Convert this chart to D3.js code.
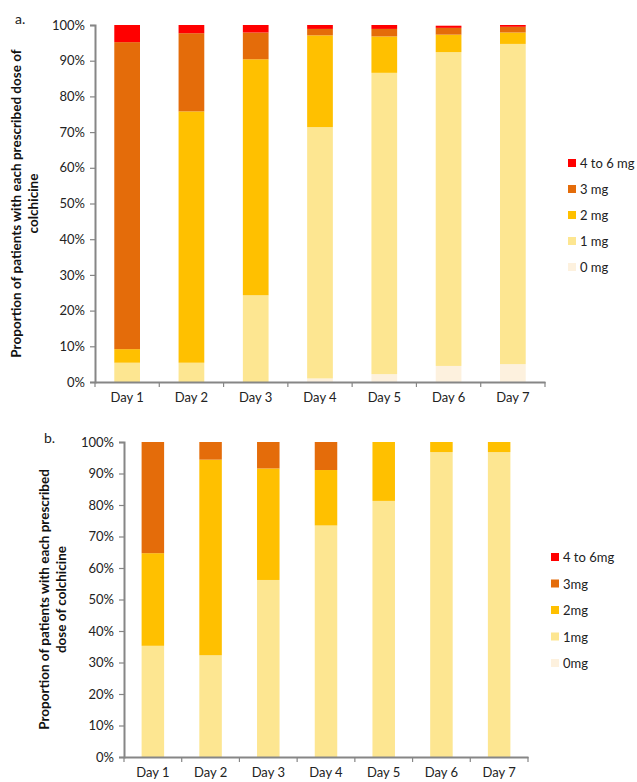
<!DOCTYPE html>
<html>
<head>
<meta charset="utf-8">
<script src="https://cdn.jsdelivr.net/npm/d3@7"></script>
<style>
  body { margin: 0; background: #fff; }
  svg { display: block; font-family: Lato, "Liberation Sans", sans-serif; }
</style>
</head>
<body>
<div id="idMyCanvas"></div>
<script>
// Data
// -------------------
let days = ["Day 1", "Day 2", "Day 3", "Day 4", "Day 5", "Day 6", "Day 7"];
let dose_keys = ["d0", "d1", "d2", "d3", "d4"];
let dose_colors = ["#fdf1de", "#fde691", "#ffc000", "#e46c0a", "#ff0000"];
let legend_a = ["4 to 6 mg", "3 mg", "2 mg", "1 mg", "0 mg"];
let legend_b = ["4 to 6mg", "3mg", "2mg", "1mg", "0mg"];
let y_ticks = [0, 10, 20, 30, 40, 50, 60, 70, 80, 90, 100];

// panel a (percent of patients per day)
let a_0mg  = [0.0, 0.0, 0.0, 1.0, 2.2, 4.5, 5.0];
let a_1mg  = [5.4, 5.4, 24.3, 70.4, 84.4, 87.9, 89.7];
let a_2mg  = [3.8, 70.4, 66.1, 25.7, 10.2, 4.9, 3.2];
let a_3mg  = [86.0, 21.9, 7.5, 1.8, 2.1, 1.9, 1.6];
let a_4to6 = [4.8, 2.3, 2.1, 1.1, 1.1, 0.6, 0.5];

// panel b
let b_0mg  = [0, 0, 0, 0, 0, 0, 0];
let b_1mg  = [35.3, 32.3, 56.2, 73.5, 81.3, 96.8, 96.8];
let b_2mg  = [29.4, 62.1, 35.4, 17.6, 18.7, 3.2, 3.2];
let b_3mg  = [35.3, 5.6, 8.4, 8.9, 0, 0, 0];
let b_4to6 = [0, 0, 0, 0, 0, 0, 0];
// -------------------

let font_size = 13; // px

let svg_obj = d3.select("#idMyCanvas")
                .append("svg")
                  .attr("width", 637)
                  .attr("height", 782)
                  .attr("viewBox", "0 0 637 782");

function rows_from(s0, s1, s2, s3, s4) {
   return days.map((d, i) => ({ day: d, d0: s0[i], d1: s1[i], d2: s2[i], d3: s3[i], d4: s4[i] }));
}

function draw_panel(cfg) {
   let x = d3.scaleBand().domain(days).range([cfg.x0, cfg.x1]).paddingInner(cfg.pad).paddingOuter(cfg.pad / 2);
   let x_ticks = d3.scaleBand().domain(days).range([cfg.x0, cfg.x1]);
   let y = d3.scaleLinear().domain([0, 100]).range([cfg.y0, cfg.y1]);

   let stack = d3.stack().keys(dose_keys)(cfg.rows);

   let g = svg_obj.append("g");

   g.selectAll("g.series")
    .data(stack)
    .join("g")
      .attr("fill", (d, i) => dose_colors[i])
    .selectAll("rect")
    .data(d => d)
    .join("rect")
      .attr("x", d => x(d.data.day))
      .attr("width", x.bandwidth())
      .attr("y", d => y(d[1]))
      .attr("height", d => Math.max(0, y(d[0]) - y(d[1])));

   // y axis
   let y_axis = g.append("g")
      .attr("transform", "translate(" + cfg.x0 + ",0)")
      .call(d3.axisLeft(y).tickValues(y_ticks).tickFormat(d => d + "%").tickSize(5).tickPadding(5));
   y_axis.select(".domain").attr("stroke", "#868686").attr("stroke-width", 2);
   y_axis.selectAll(".tick line").attr("stroke", "#868686").attr("stroke-width", 1.2);
   y_axis.selectAll(".tick text").attr("font-size", font_size).attr("fill", "#222").attr("font-family", "Lato");

   // x axis
   let x_axis = g.append("g")
      .attr("transform", "translate(0," + cfg.y0 + ")")
      .call(d3.axisBottom(x_ticks).tickSize(0).tickPadding(cfg.x_pad));
   x_axis.select(".domain").attr("stroke", "#868686").attr("stroke-width", 2);
   x_axis.selectAll(".tick text").attr("font-size", font_size).attr("fill", "#222").attr("font-family", "Lato");
   // tick marks between categories
   g.append("g")
    .selectAll("line")
    .data(days.concat(["end"]))
    .join("line")
      .attr("x1", (d, i) => cfg.x0 + i * x_ticks.step())
      .attr("x2", (d, i) => cfg.x0 + i * x_ticks.step())
      .attr("y1", cfg.y0)
      .attr("y2", cfg.y0 + 5)
      .attr("stroke", "#868686")
      .attr("stroke-width", 1.2);

   // y title
   let ty = (cfg.y0 + cfg.y1) / 2;
   let title = g.append("text")
      .attr("transform", "translate(" + cfg.title_x + "," + ty + ") rotate(-90)")
      .attr("text-anchor", "middle")
      .attr("font-size", 13.5)
      .attr("font-weight", "bold")
      .attr("fill", "#111");
   cfg.title_lines.forEach((t, i) => {
      title.append("tspan").attr("x", 0).attr("dy", i === 0 ? 0 : 17).text(t);
   });

   // panel letter
   g.append("text")
    .attr("x", cfg.letter_x)
    .attr("y", cfg.letter_y)
    .attr("font-size", 14)
    .attr("fill", "#222")
    .text(cfg.letter);

   // legend
   let leg = g.append("g");
   cfg.legend.forEach((t, i) => {
      let cy = cfg.leg_y + i * cfg.leg_dy;
      leg.append("rect")
         .attr("x", cfg.leg_x)
         .attr("y", cy - 4)
         .attr("width", 8)
         .attr("height", 8)
         .attr("fill", dose_colors[4 - i]);
      leg.append("text")
         .attr("x", cfg.leg_x + 12)
         .attr("y", cy + 5)
         .attr("font-size", font_size)
         .attr("fill", "#222")
         .text(t);
   });
}

draw_panel({
   rows: rows_from(a_0mg, a_1mg, a_2mg, a_3mg, a_4to6),
   x0: 95, x1: 545, y0: 382, y1: 25, pad: 0.6, x_pad: 11,
   title_x: 21, title_lines: ["Proportion of patients with each prescribed dose of", "colchicine"],
   letter: "a.", letter_x: 15, letter_y: 24,
   legend: legend_a, leg_x: 568, leg_y: 163, leg_dy: 26
});

draw_panel({
   rows: rows_from(b_0mg, b_1mg, b_2mg, b_3mg, b_4to6),
   x0: 124, x1: 528, y0: 757, y1: 442, pad: 0.61, x_pad: 11,
   title_x: 49, title_lines: ["Proportion of patients with each prescribed", "dose of colchicine"],
   letter: "b.", letter_x: 44, letter_y: 443,
   legend: legend_b, leg_x: 551, leg_y: 557, leg_dy: 26.5
});
</script>
</body>
</html>
